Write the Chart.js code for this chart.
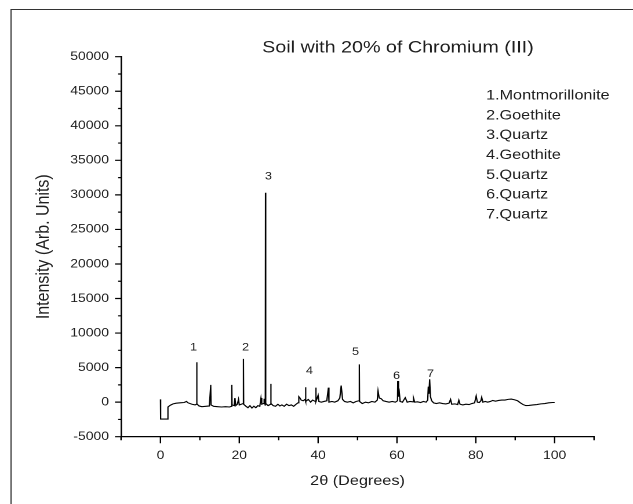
<!DOCTYPE html>
<html>
<head>
<meta charset="utf-8">
<script src="https://cdn.jsdelivr.net/npm/chart.js@4.4.0/dist/chart.umd.min.js"></script>
<style>
html, body { margin: 0; padding: 0; background: #fff; overflow: hidden; }
/* the source figure is stretched sideways, so the chart is drawn narrow and widened */
#wrap { width: 546px; height: 504px; transform: scaleX(1.1593); transform-origin: 0 0; }
</style>
</head>
<body>
<div id="wrap"><canvas id="xrd" width="546" height="504"></canvas></div>
<script>
// XRD pattern
var twoTheta = [
	0, 0.05, 1.7, 1.9, 2.5, 3.2, 4, 5, 6, 6.6, 7, 8, 8.8, 9.14, 9.2, 9.26, 9.8, 10.5, 11.5, 12.4,
	12.76, 12.84, 13.5, 14.5, 15.5, 16.5, 17.5, 18.04, 18.1, 18.16, 18.7, 18.9, 19.1, 19.5, 19.8, 20.0, 20.5, 20.99, 21.05, 21.11,
	21.7, 22.2, 22.7, 23.2, 23.7, 24.2, 24.7, 25.2, 25.5, 25.7, 26.1, 26.3, 26.59, 26.65, 26.71, 27.3, 27.94, 28.0, 28.06, 28.6,
	29.2, 29.8, 30.3, 30.8, 31.4, 32, 32.6, 33.2, 33.8, 34.4, 34.9, 35.1, 35.4, 35.7, 36.2, 36.7, 36.8, 36.9, 37.5, 38.1,
	38.6, 39.3, 39.4, 39.5, 40.0, 40.2, 40.8, 41.5, 42.2, 42.6, 42.75, 43.5, 44.2, 45, 45.5, 45.85, 46.2, 46.7, 47.4, 48.2,
	48.9, 49.6, 50.39, 50.45, 50.51, 51.2, 52, 52.8, 53.6, 54.4, 55.0, 55.2, 55.5, 56, 56.5, 57.2, 58, 58.8, 59.6, 60.14,
	60.2, 60.4, 60.6, 60.8, 61.4, 62.1, 62.6, 63.3, 64.0, 64.2, 64.5, 65.2, 66, 66.7, 67.4, 67.8, 67.95, 68.1, 68.3, 68.5,
	68.8, 69.3, 70, 70.8, 71.6, 72.4, 73.2, 73.6, 73.9, 74.7, 75.4, 75.7, 76, 76.7, 77.5, 78.3, 79, 79.7, 80.1, 80.4,
	80.9, 81.3, 81.5, 81.8, 82.4, 83, 83.7, 84.3, 85, 85.8, 86.6, 87.4, 88.2, 89, 89.8, 90.6, 91.3, 92, 92.7, 93.5,
	94.5, 95.5, 96.5, 97.5, 98.5, 99.5, 100
];
var intensity = [
	400, -2450, -2450, -700, -450, -250, -150, -100, -50, 100, -100, -300, -400, -300, 5780, -250, -550, -650, -600, -550,
	2500, -400, -600, -650, -700, -650, -700, -600, 2500, -400, -500, 600, -500, -300, 400, -400, -300, -200, 6260, -300,
	-600, -800, -500, -850, -600, -800, -500, -600, 600, -300, -200, 500, -500, 30300, -200, -500, -300, 2640, -200, -500,
	-600, -300, -550, -400, -600, -300, -500, -400, -600, -300, -100, 800, 600, 300, 200, 400, 2150, 100, 400, 0,
	300, 100, 2100, 100, 1000, 100, 0, 100, 200, 2100, 0, 100, 0, 200, 600, 2400, 400, 100, 0, 100,
	-100, 100, 200, 5460, 100, -200, 0, -100, 100, 0, 300, 1620, 600, 500, 200, 100, 0, 100, 0, 200,
	3070, 800, 1400, 100, 0, 650, 0, 100, 50, 600, 0, 50, -50, 100, 0, 300, 2250, 1200, 3310, 800,
	200, -100, -200, -100, -200, -250, -150, 400, -300, -250, -350, 300, -300, -400, -300, -350, -200, -100, 900, 0,
	-50, 200, 700, 0, 100, 0, 100, 250, 150, 250, 300, 300, 400, 450, 350, 200, -100, -350, -500, -480,
	-400, -350, -250, -200, -100, -50, -50
];

// peak numbers and where they sit (data units)
var peakNumbers = ["1", "2", "3", "4", "5", "6", "7"];
var peakLabelX = [8.4, 21.6, 27.4, 37.8, 49.5, 59.9, 68.5];
var peakLabelY = [7900, 7900, 32640, 4520, 7280, 3800, 4090];

var phases = ["1.Montmorillonite", "2.Goethite", "3.Quartz", "4.Geothite", "5.Quartz", "6.Quartz", "7.Quartz"];

var xMin = -10, xMax = 110;
var yMin = -5000, yMax = 50000;

var FONT = '"Liberation Sans", Arial, sans-serif';
var INK = "#1e1e1e";

var decorations = {
	id: "decorations",
	afterDraw: function(chart) {
		var ctx = chart.ctx, xs = chart.scales.x, ys = chart.scales.y, area = chart.chartArea;
		ctx.save();

		// page frame (left and top only)
		ctx.strokeStyle = "#333";
		ctx.lineWidth = 1;
		ctx.beginPath();
		ctx.moveTo(9.5, 504);
		ctx.lineTo(9.5, 9.5);
		ctx.lineTo(546, 9.5);
		ctx.stroke();

		// outward ticks, major and minor
		ctx.strokeStyle = "#000";
		ctx.lineWidth = 1.2;
		ctx.beginPath();
		for (var v = xMin; v <= xMax; v += 10) {
			var px = xs.getPixelForValue(v);
			var len = (v % 20 === 0) ? 6.5 : 3.5;
			ctx.moveTo(px, area.bottom);
			ctx.lineTo(px, area.bottom + len);
		}
		for (var w = yMin; w <= yMax; w += 2500) {
			var py = ys.getPixelForValue(w);
			var l2 = (w % 5000 === 0) ? 5.2 : 2.5;
			ctx.moveTo(area.left, py);
			ctx.lineTo(area.left - l2, py);
		}
		ctx.stroke();

		ctx.fillStyle = INK;
		ctx.textBaseline = "middle";

		// title
		ctx.font = "17px " + FONT;
		ctx.textAlign = "center";
		ctx.fillText("Soil with 20% of Chromium (III)", 343.3, 48);

		// peak numbers
		ctx.font = "11px " + FONT;
		for (var i = 0; i < peakNumbers.length; i++) {
			ctx.fillText(peakNumbers[i], xs.getPixelForValue(peakLabelX[i]), ys.getPixelForValue(peakLabelY[i]));
		}

		// phase list
		ctx.font = "14px " + FONT;
		ctx.textAlign = "left";
		for (var j = 0; j < phases.length; j++) {
			ctx.fillText(phases[j], 419.2, 95.7 + j * 19.8);
		}
		ctx.restore();
	}
};

new Chart("xrd", {
	type: "line",
	data: {
		datasets: [{
			label: "Soil with 20% Cr(III)",
			data: twoTheta.map(function(x, i) { return {x: x, y: intensity[i]}; }),
			borderColor: "#000",
			borderWidth: 1.1,
			pointRadius: 0,
			tension: 0,
			fill: false
		}]
	},
	options: {
		responsive: false,
		animation: false,
		devicePixelRatio: 2,
		layout: {padding: {top: 56.7, right: 33.6, bottom: 0, left: 0}},
		plugins: {
			legend: {display: false},
			tooltip: {enabled: false}
		},
		scales: {
			x: {
				type: "linear",
				min: xMin,
				max: xMax,
				afterFit: function(s) { s.height = 67.3; },
				grid: {display: false, drawTicks: false},
				border: {display: true, color: "#000", width: 1.3},
				ticks: {
					stepSize: 10,
					autoSkip: false,
					maxRotation: 0,
					padding: 11.7,
					color: INK,
					font: {family: FONT, size: 12},
					callback: function(v) { return (v >= 0 && v <= 100 && v % 20 === 0) ? String(v) : ""; }
				},
				title: {
					display: true,
					text: "2θ (Degrees)",
					color: INK,
					font: {family: FONT, size: 14},
					padding: {top: 0, bottom: 14.6}
				}
			},
			y: {
				min: yMin,
				max: yMax,
				afterFit: function(s) { s.width = 104.4; },
				grid: {display: false, drawTicks: false},
				border: {display: true, color: "#000", width: 1.3},
				ticks: {
					stepSize: 5000,
					padding: 10.4,
					color: INK,
					font: {family: FONT, size: 12},
					callback: function(v) { return String(v); }
				},
				title: {
					display: true,
					text: "Intensity (Arb. Units)",
					color: INK,
					font: {family: FONT, size: 16},
					padding: {top: 28, bottom: 0}
				}
			}
		}
	},
	plugins: [decorations]
});
</script>
</body>
</html>
